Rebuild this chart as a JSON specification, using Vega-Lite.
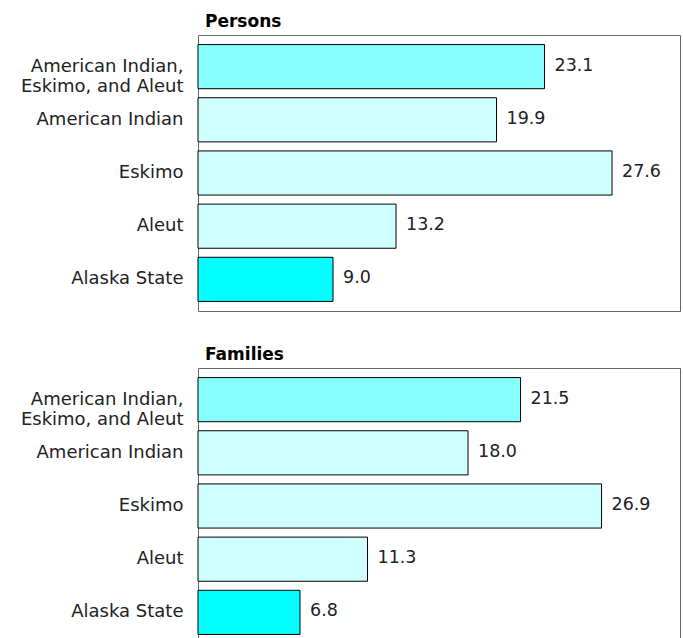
{
  "$schema": "https://vega.github.io/schema/vega-lite/v6.json",
  "padding": {"left": 19, "top": 12, "right": 0, "bottom": 0},
  "data": {"values": [
    {"panel": "Persons", "category": "American Indian, Eskimo, and Aleut", "value": 23.1},
    {"panel": "Persons", "category": "American Indian", "value": 19.9},
    {"panel": "Persons", "category": "Eskimo", "value": 27.6},
    {"panel": "Persons", "category": "Aleut", "value": 13.2},
    {"panel": "Persons", "category": "Alaska State", "value": 9.0},
    {"panel": "Families", "category": "American Indian, Eskimo, and Aleut", "value": 21.5},
    {"panel": "Families", "category": "American Indian", "value": 18.0},
    {"panel": "Families", "category": "Eskimo", "value": 26.9},
    {"panel": "Families", "category": "Aleut", "value": 11.3},
    {"panel": "Families", "category": "Alaska State", "value": 6.8}
  ]},
  "spacing": 33,
  "vconcat": [
    {
      "title": {"text": "Persons"},
      "width": 482,
      "height": 276,
      "transform": [{"filter": "datum.panel == 'Persons'"}],
      "encoding": {
        "y": {"field": "category", "type": "nominal", "sort": null, "title": null,
          "scale": {"paddingInner": 0.17, "paddingOuter": 0.18}},
        "x": {"field": "value", "type": "quantitative", "axis": null, "scale": {"domain": [0, 32.13], "nice": false}}
      },
      "layer": [
        {"mark": {"type": "bar", "stroke": "black", "strokeWidth": 1},
         "encoding": {"color": {"field": "category", "type": "nominal", "legend": null,
           "scale": {"domain": ["American Indian, Eskimo, and Aleut", "American Indian", "Eskimo", "Aleut", "Alaska State"],
                     "range": ["#88FFFF", "#D0FFFF", "#D0FFFF", "#D0FFFF", "#00FFFF"]}}}},
        {"mark": {"type": "text", "align": "left", "dx": 10, "dy": -1, "font": "DejaVu Sans", "fontSize": 17.5, "color": "#222"},
         "encoding": {"text": {"field": "value", "type": "quantitative", "format": ".1f"}}}
      ]
    },
    {
      "title": {"text": "Families"},
      "width": 482,
      "height": 276,
      "transform": [{"filter": "datum.panel == 'Families'"}],
      "encoding": {
        "y": {"field": "category", "type": "nominal", "sort": null, "title": null,
          "scale": {"paddingInner": 0.17, "paddingOuter": 0.18}},
        "x": {"field": "value", "type": "quantitative", "axis": null, "scale": {"domain": [0, 32.13], "nice": false}}
      },
      "layer": [
        {"mark": {"type": "bar", "stroke": "black", "strokeWidth": 1},
         "encoding": {"color": {"field": "category", "type": "nominal", "legend": null,
           "scale": {"domain": ["American Indian, Eskimo, and Aleut", "American Indian", "Eskimo", "Aleut", "Alaska State"],
                     "range": ["#88FFFF", "#D0FFFF", "#D0FFFF", "#D0FFFF", "#00FFFF"]}}}},
        {"mark": {"type": "text", "align": "left", "dx": 10, "dy": -1, "font": "DejaVu Sans", "fontSize": 17.5, "color": "#222"},
         "encoding": {"text": {"field": "value", "type": "quantitative", "format": ".1f"}}}
      ]
    }
  ],
  "resolve": {"scale": {"color": "independent"}},
  "config": {
    "view": {"stroke": "#666", "strokeWidth": 1},
    "title": {"anchor": "start", "frame": "group", "font": "DejaVu Sans", "fontSize": 17, "fontWeight": "bold", "color": "black", "offset": 4, "dx": 7},
    "axis": {
      "domain": false, "ticks": false, "grid": false,
      "labelFont": "DejaVu Sans", "labelFontSize": 18, "labelColor": "#222",
      "labelPadding": 15, "labelLineHeight": 20, "labelLimit": 300,
      "labelExpr": "datum.label == 'American Indian, Eskimo, and Aleut' ? ['American Indian,', 'Eskimo, and Aleut'] : datum.label"
    }
  }
}
